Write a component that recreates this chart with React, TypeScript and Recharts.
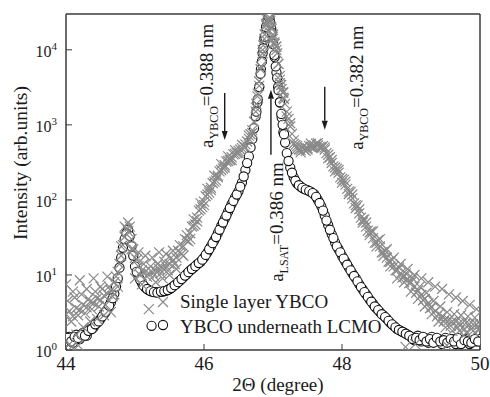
import { ScatterChart, Scatter, XAxis, YAxis, ReferenceDot } from 'recharts';

// 2θ grid of the scan (degrees)
const twoTheta = [
  44.0, 44.05, 44.1, 44.15, 44.2, 44.25, 44.3, 44.35, 44.4, 44.45,
  44.5, 44.55, 44.6, 44.65, 44.7, 44.75, 44.8, 44.85, 44.9, 44.95,
  45.0, 45.05, 45.1, 45.15, 45.2, 45.25, 45.3, 45.35, 45.4, 45.45,
  45.5, 45.55, 45.6, 45.65, 45.7, 45.75, 45.8, 45.85, 45.9, 45.95,
  46.0, 46.05, 46.1, 46.15, 46.2, 46.25, 46.3, 46.35, 46.4, 46.45,
  46.5, 46.55, 46.6, 46.65, 46.7, 46.75, 46.8, 46.85, 46.9, 46.95,
  47.0, 47.05, 47.1, 47.15, 47.2, 47.25, 47.3, 47.35, 47.4, 47.45,
  47.5, 47.55, 47.6, 47.65, 47.7, 47.75, 47.8, 47.85, 47.9, 47.95,
  48.0, 48.05, 48.1, 48.15, 48.2, 48.25, 48.3, 48.35, 48.4, 48.45,
  48.5, 48.55, 48.6, 48.65, 48.7, 48.75, 48.8, 48.85, 48.9, 48.95,
  49.0, 49.05, 49.1, 49.15, 49.2, 49.25, 49.3, 49.35, 49.4, 49.45,
  49.5, 49.55, 49.6, 49.65, 49.7, 49.75, 49.8, 49.85, 49.9, 49.95,
  50.0,
];
// in-between scan points
const twoThetaMid = [
  44.025, 44.075, 44.125, 44.175, 44.225, 44.275, 44.325, 44.375, 44.425, 44.475,
  44.525, 44.575, 44.625, 44.675, 44.725, 44.775, 44.825, 44.875, 44.925, 44.975,
  45.025, 45.075, 45.125, 45.175, 45.225, 45.275, 45.325, 45.375, 45.425, 45.475,
  45.525, 45.575, 45.625, 45.675, 45.725, 45.775, 45.825, 45.875, 45.925, 45.975,
  46.025, 46.075, 46.125, 46.175, 46.225, 46.275, 46.325, 46.375, 46.425, 46.475,
  46.525, 46.575, 46.625, 46.675, 46.725, 46.775, 46.825, 46.875, 46.925, 46.975,
  47.025, 47.075, 47.125, 47.175, 47.225, 47.275, 47.325, 47.375, 47.425, 47.475,
  47.525, 47.575, 47.625, 47.675, 47.725, 47.775, 47.825, 47.875, 47.925, 47.975,
  48.025, 48.075, 48.125, 48.175, 48.225, 48.275, 48.325, 48.375, 48.425, 48.475,
  48.525, 48.575, 48.625, 48.675, 48.725, 48.775, 48.825, 48.875, 48.925, 48.975,
  49.025, 49.075, 49.125, 49.175, 49.225, 49.275, 49.325, 49.375, 49.425, 49.475,
  49.525, 49.575, 49.625, 49.675, 49.725, 49.775, 49.825, 49.875, 49.925, 49.975,
];

// Single layer YBCO (grey crosses): band centre and scatter around it
const singleLayer = [
  3.0, 3.3, 2.8, 3.6, 3.4, 4.0, 3.7, 4.4, 4.2, 4.9,
  4.6, 5.3, 5.6, 6.2, 8.0, 11, 18, 32, 50, 30,
  17, 13, 11.5, 11, 10.5, 11, 11.5, 12, 12.5, 13,
  14, 15.5, 17, 20, 24, 29, 36, 45, 58, 75,
  95, 118, 145, 175, 210, 250, 290, 330, 370, 410,
  450, 490, 550, 650, 850, 1500, 3800, 9000, 22000, 25000,
  16000, 10000, 4000, 2300, 1500, 950, 620, 480, 460, 470,
  490, 510, 530, 530, 510, 470, 400, 310, 270, 230,
  190, 160, 130, 105, 85, 66, 54, 44, 37, 31,
  27, 24, 20, 17, 15, 13, 11.5, 10.5, 9.5, 8.8,
  8.0, 7.0, 6.2, 5.4, 4.8, 4.2, 3.7, 3.3, 3.0, 2.8,
  2.6, 2.5, 2.4, 2.4, 2.3, 2.3, 2.3, 2.2, 2.2, 2.2,
  2.2,
];
const singleLayerSpread = [
  7.5, 1.2, 6.0, 1.6, 8.5, 2.0, 6.5, 2.4, 9.0, 2.6,
  7.0, 2.9, 9.5, 3.2, 5.5, 7.0, 24, 44, 38, 22,
  9, 20, 7.5, 18, 3.5, 17, 8, 20, 9, 19,
  10, 21, 12, 25, 18, 34, 30, 55, 52, 90,
  85, 140, 135, 210, 200, 300, 270, 380, 340, 460,
  420, 540, 500, 720, 780, 1700, 3300, 10000, 19000, 27000,
  14000, 11000, 3600, 2700, 1300, 1050, 560, 520, 430, 520,
  470, 560, 500, 570, 490, 500, 360, 340, 240, 250,
  170, 175, 120, 118, 78, 75, 50, 50, 34, 38,
  24, 30, 18, 22, 13, 17, 9, 14, 8, 12,
  6, 10, 4.8, 9, 3.8, 8, 3.0, 7, 2.4, 6.5,
  2.0, 5.5, 1.8, 5.0, 1.8, 4.5, 1.7, 4.0, 1.8, 3.5,
  1.9,
];
const singleLayerMid = [
  4.5, 2.4, 5.0, 2.9, 5.5, 3.1, 4.8, 3.5, 6.0, 3.8,
  6.5, 4.0, 7.0, 5.2, 9.5, 14, 25, 42, 44, 22,
  16, 10, 14, 9.5, 13, 9.8, 14, 10.5, 15, 11.5,
  17, 14, 21, 19, 30, 28, 44, 47, 72, 80,
  112, 125, 168, 182, 240, 262, 325, 340, 405, 420,
  470, 520, 600, 750, 1100, 2400, 6000, 14000, 24000, 20000,
  12000, 6500, 3000, 1900, 1200, 760, 540, 470, 500, 450,
  520, 500, 560, 510, 520, 420, 370, 280, 260, 200,
  185, 140, 128, 90, 84, 58, 55, 39, 38, 27,
  29, 20, 21, 15, 16, 11.5, 12.5, 9.2, 10.5, 7.8,
  9.0, 5.8, 7.0, 4.6, 5.8, 3.6, 4.5, 2.8, 3.8, 2.4,
  3.2, 2.1, 3.0, 2.0, 2.9, 1.9, 2.8, 1.9, 2.7, 1.9,
];

// YBCO underneath LCMO (open circles)
const underneath = [
  1.3, 1.5, 1.25, 1.6, 1.4, 1.7, 1.55, 1.9, 2.0, 2.3,
  2.6, 3.0, 3.5, 4.3, 5.6, 9, 17, 30, 40, 24,
  13, 9.5, 7.8, 6.8, 6.3, 6.0, 5.9, 5.9, 6.0, 6.2,
  6.5, 7.0, 7.6, 8.4, 9.3, 10.3, 11.5, 12.5, 13.8, 15,
  17, 20, 24, 29, 36, 45, 56, 70, 88, 108,
  130, 170, 250, 380, 650, 1300, 3200, 9000, 20000, 26000,
  12000, 5000, 2000, 800, 420, 270, 200, 165, 150, 140,
  135, 128, 118, 100, 82, 62, 46, 35, 27, 22,
  18, 15, 12.5, 10.5, 9, 7.5, 6.4, 5.5, 4.7, 4.1,
  3.6, 3.2, 2.9, 2.6, 2.3, 2.1, 1.9, 1.8, 1.7, 1.6,
  1.5, 1.35, 1.55, 1.3, 1.45, 1.25, 1.5, 1.3, 1.4, 1.2,
  1.45, 1.3, 1.4, 1.2, 1.35, 1.25, 1.4, 1.2, 1.35, 1.3,
  1.4,
];
const underneathMid = [
  1.45, 1.3, 1.5, 1.45, 1.6, 1.55, 1.8, 1.9, 2.2, 2.4,
  2.8, 3.2, 3.9, 4.9, 7, 12.5, 23, 36, 33, 18,
  11, 8.6, 7.2, 6.5, 6.1, 5.9, 5.8, 6.0, 6.1, 6.3,
  6.7, 7.3, 8.0, 8.8, 9.8, 10.9, 12, 13.1, 14.4, 16,
  18.5, 22, 26.5, 32, 40, 50, 62, 78, 97, 118,
  150, 205, 310, 500, 900, 2000, 5500, 14000, 23000, 19000,
  8000, 3200, 1250, 580, 330, 230, 180, 157, 145, 137,
  131, 123, 110, 91, 72, 53, 40, 31, 24, 20,
  16.5, 13.7, 11.5, 9.7, 8.2, 6.9, 5.9, 5.1, 4.4, 3.8,
  3.4, 3.0, 2.75, 2.45, 2.2, 2.0, 1.85, 1.75, 1.65, 1.55,
  1.4, 1.45, 1.35, 1.5, 1.3, 1.4, 1.25, 1.45, 1.3, 1.35,
  1.25, 1.4, 1.3, 1.45, 1.2, 1.35, 1.3, 1.25, 1.4, 1.3,
];

// finer sampling across the (005) / substrate peak
const peakTheta = [
  46.76, 46.78, 46.8, 46.82, 46.84, 46.86, 46.88, 46.9, 46.92, 46.94, 46.96,
  46.98, 47.0, 47.02, 47.04, 47.06, 47.08, 47.1, 47.12, 47.14, 47.16,
];
const singleLayerPeak = [
  1900, 2600, 3800, 5500, 8000, 11500, 16000, 21000, 25000, 26000, 24000,
  19000, 15000, 12500, 11000, 9000, 6500, 4500, 3400, 2700, 2200,
];
const underneathPeak = [
  1500, 2200, 3200, 4800, 7000, 10500, 15000, 20000, 25000, 27000, 23000,
  17000, 12000, 8500, 6000, 4200, 2900, 2000, 1400, 1000, 750,
];

// stray points
const singleStrayTheta = [44.08, 44.18, 48.92, 49.06, 49.52];
const singleStray = [1.1, 1.15, 1.1, 1.2, 1.15];
const underneathStrayTheta = [45.24];
const underneathStray = [2.1];

const yMajorTicks = [1, 10, 100, 1000, 10000];
const yMinorTicks = [
  2, 3, 4, 5, 6, 7, 8, 9,
  20, 30, 40, 50, 60, 70, 80, 90,
  200, 300, 400, 500, 600, 700, 800, 900,
  2000, 3000, 4000, 5000, 6000, 7000, 8000, 9000,
  20000,
];
const xMajorTicks = [44, 46, 48, 50];
const xMinorTicks = [45, 47, 49];

const FONT = "'Liberation Serif', 'Times New Roman', Times, serif";
const INK = '#1a1a1a';
const AXIS = '#3a3a3a';
const GREY = '#8a8a8a';

const pairs = (xs: number[], ys: number[]) => xs.map((x, i) => ({ x, y: ys[i] }));

const singleData = [
  ...pairs(twoTheta, singleLayer),
  ...pairs(twoTheta, singleLayerSpread),
  ...pairs(twoThetaMid, singleLayerMid),
  ...pairs(peakTheta, singleLayerPeak),
  ...pairs(singleStrayTheta, singleStray),
];
const underneathData = [
  ...pairs(twoTheta, underneath),
  ...pairs(twoThetaMid, underneathMid),
  ...pairs(peakTheta, underneathPeak),
  ...pairs(underneathStrayTheta, underneathStray),
];

const Cross = (p: any) => {
  const { cx, cy } = p;
  if (cx == null || cy == null) return <g />;
  const r = 5;
  return (
    <path
      d={`M${cx - r},${cy - r}L${cx + r},${cy + r}M${cx - r},${cy + r}L${cx + r},${cy - r}`}
      stroke={GREY}
      strokeWidth={1.2}
      fill="none"
    />
  );
};

const Ring = (p: any) => {
  const { cx, cy } = p;
  if (cx == null || cy == null) return <g />;
  return <circle cx={cx} cy={cy} r={4.6} fill="#fff" stroke="#111" strokeWidth={1.1} />;
};

const XTick = (p: any) => (
  <text x={p.x} y={p.y + 26} textAnchor="middle" fontSize={19} fontFamily={FONT} fill={INK}>
    {p.payload.value}
  </text>
);

const YTick = (p: any) => {
  const exp = Math.round(Math.log10(p.payload.value));
  return (
    <text x={p.x - 15} y={p.y + 7} textAnchor="end" fontSize={16} fontFamily={FONT} fill={INK}>
      10
      <tspan dy={-7} fontSize={11}>{exp}</tspan>
    </text>
  );
};

interface NoteProps {
  cx?: number;
  cy?: number;
  dir: 'up' | 'down';
  len: number;
  sub: string;
  text: string;
  dx: number;
  dy: number;
}

// arrow whose tip sits on the reference point, plus the rotated lattice-constant label
function Note({ cx = 0, cy = 0, dir, len, sub, text, dx, dy }: NoteProps) {
  const tail = dir === 'down' ? cy - len : cy + len;
  const base = dir === 'down' ? cy - 9 : cy + 9;
  const tx = cx + dx;
  const ty = cy + dy;
  return (
    <g>
      <line x1={cx} y1={tail} x2={cx} y2={base} stroke={INK} strokeWidth={1.4} />
      <path d={`M${cx - 3},${base}L${cx + 3},${base}L${cx},${cy}Z`} fill={INK} />
      <text
        transform={`rotate(-90 ${tx} ${ty})`}
        x={tx}
        y={ty}
        fontSize={19}
        fontFamily={FONT}
        fill={INK}
      >
        a<tspan dy={5} fontSize={12}>{sub}</tspan>
        <tspan dy={-5}>{text}</tspan>
      </text>
    </g>
  );
}

export default function App() {
  return (
    <div style={{ position: 'absolute', left: 0, top: 0, width: 490, height: 397, background: '#fff' }}>
      <ScatterChart width={490} height={397} margin={{ top: 14, right: 10, bottom: 47, left: 66 }}>
        <XAxis
          xAxisId="main"
          type="number"
          dataKey="x"
          domain={[44, 50]}
          ticks={xMajorTicks}
          interval={0}
          height={1}
          mirror
          tickSize={6}
          tickMargin={0}
          allowDataOverflow
          axisLine={{ stroke: AXIS, strokeWidth: 1.5 }}
          tickLine={{ stroke: AXIS }}
          tick={<XTick />}
        />
        <XAxis
          xAxisId="minor"
          type="number"
          domain={[44, 50]}
          ticks={xMinorTicks}
          interval={0}
          height={1}
          mirror
          tickSize={3}
          allowDataOverflow
          axisLine={false}
          tickLine={{ stroke: AXIS }}
          tick={false}
        />
        <XAxis
          xAxisId="top"
          orientation="top"
          type="number"
          domain={[44, 50]}
          height={1}
          mirror
          allowDataOverflow
          axisLine={{ stroke: AXIS, strokeWidth: 1.5 }}
          tickLine={false}
          tick={false}
        />
        <YAxis
          yAxisId="main"
          type="number"
          dataKey="y"
          scale="log"
          domain={[1, 30000]}
          ticks={yMajorTicks}
          interval={0}
          width={1}
          mirror
          tickSize={6}
          tickMargin={0}
          allowDataOverflow
          axisLine={{ stroke: AXIS, strokeWidth: 1.5 }}
          tickLine={{ stroke: AXIS }}
          tick={<YTick />}
        />
        <YAxis
          yAxisId="minor"
          type="number"
          scale="log"
          domain={[1, 30000]}
          ticks={yMinorTicks}
          interval={0}
          width={1}
          mirror
          tickSize={3}
          allowDataOverflow
          axisLine={false}
          tickLine={{ stroke: AXIS }}
          tick={false}
        />
        <YAxis
          yAxisId="right"
          orientation="right"
          type="number"
          scale="log"
          domain={[1, 30000]}
          width={1}
          mirror
          allowDataOverflow
          axisLine={{ stroke: AXIS, strokeWidth: 1.5 }}
          tickLine={false}
          tick={false}
        />

        <Scatter
          name="YBCO underneath LCMO"
          data={underneathData}
          xAxisId="main"
          yAxisId="main"
          shape={Ring}
          isAnimationActive={false}
        />
        <Scatter
          name="Single layer YBCO"
          data={singleData}
          xAxisId="main"
          yAxisId="main"
          shape={Cross}
          isAnimationActive={false}
        />

        <ReferenceDot
          xAxisId="main"
          yAxisId="main"
          x={46.3}
          y={630}
          ifOverflow="visible"
          shape={(p: any) => (
            <Note cx={p.cx} cy={p.cy} dir="down" len={47} sub="YBCO" text="=0.388 nm" dx={-12} dy={8} />
          )}
        />
        <ReferenceDot
          xAxisId="main"
          yAxisId="main"
          x={47.75}
          y={860}
          ifOverflow="visible"
          shape={(p: any) => (
            <Note cx={p.cx} cy={p.cy} dir="down" len={43} sub="YBCO" text="=0.382 nm" dx={38} dy={20} />
          )}
        />
        <ReferenceDot
          xAxisId="main"
          yAxisId="main"
          x={46.97}
          y={2930}
          ifOverflow="visible"
          shape={(p: any) => (
            <Note cx={p.cx} cy={p.cy} dir="up" len={65} sub="LSAT" text="=0.386 nm" dx={12} dy={192} />
          )}
        />
      </ScatterChart>

      {/* axis titles and legend */}
      <svg
        width={490}
        height={397}
        style={{ position: 'absolute', left: 0, top: 0, pointerEvents: 'none' }}
        fontFamily={FONT}
        fill={INK}
      >
        <text transform="rotate(-90)" x={-163} y={27} textAnchor="middle" fontSize={19.5}>
          Intensity (arb.units)
        </text>
        <text x={278} y={391} textAnchor="middle" fontSize={19}>
          2Θ (degree)
        </text>
        <path d="M158,297L168,307M158,307L168,297" stroke={GREY} strokeWidth={1.2} fill="none" />
        <text x={180} y={308} fontSize={19}>Single layer YBCO</text>
        <circle cx={163} cy={325} r={4.6} fill="#fff" stroke="#111" strokeWidth={1.1} />
        <text x={180} y={333} fontSize={19}>YBCO underneath LCMO</text>
      </svg>
    </div>
  );
}
